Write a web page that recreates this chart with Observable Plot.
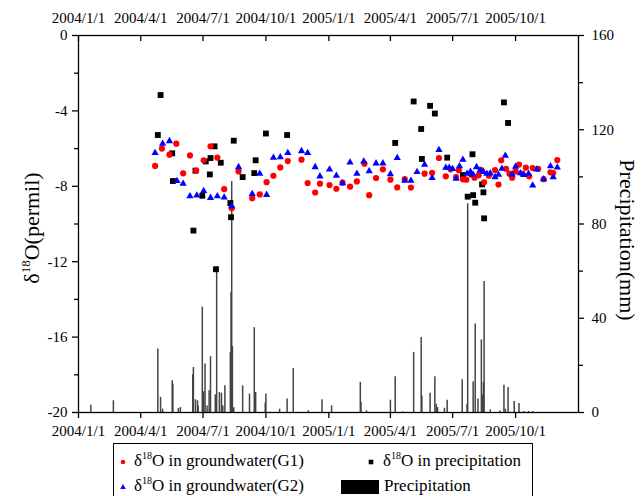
<!DOCTYPE html>
<html><head><meta charset="utf-8">
<script src="https://cdn.jsdelivr.net/npm/d3@7"></script>
<script src="https://cdn.jsdelivr.net/npm/@observablehq/plot@0.6"></script>
<style>
html,body{margin:0;padding:0;background:#fff;}
body{width:644px;height:496px;overflow:hidden;position:relative;font-family:"Liberation Serif","Times New Roman",serif;color:#000;}
#chart{position:absolute;left:0;top:0;}
#legend{position:absolute;left:113px;top:443px;width:420px;height:70px;border:1px solid #000;box-sizing:border-box;font-size:17px;}
#legend .it{position:absolute;white-space:nowrap;line-height:1;}
#legend sup{font-size:10px;vertical-align:0;position:relative;top:-7px;}
#legend svg{position:absolute;overflow:visible;}
</style></head><body>
<div id="chart"></div>
<div id="legend"></div>
<script>
// ---------- data ----------
const tickDates = ["2004-01-01","2004-04-01","2004-07-01","2004-10-01","2005-01-01","2005-04-01","2005-07-01","2005-10-01"];
const leftTicks = [0,-4,-8,-12,-16,-20];
const leftMinor = [-2,-6,-10,-14,-18];
const rightTicks = [0,40,80,120,160];
const rightMinor = [20,60,100,140];

// δ18O in groundwater (G1)
const g1Dates = ["2004-04-22","2004-05-02","2004-05-13","2004-05-23","2004-06-02","2004-06-12","2004-06-21","2004-07-02","2004-07-12","2004-07-22","2004-08-01","2004-08-12","2004-08-22","2004-09-11","2004-09-22","2004-10-02","2004-10-12","2004-10-22","2004-11-02","2004-11-22","2004-12-01","2004-12-12","2004-12-19","2005-01-02","2005-01-12","2005-01-21","2005-02-01","2005-02-11","2005-02-22","2005-03-01","2005-03-11","2005-03-21","2005-04-01","2005-04-11","2005-04-22","2005-05-01","2005-05-21","2005-06-01","2005-06-11","2005-06-21","2005-06-28","2005-07-06","2005-07-10","2005-07-16","2005-07-21","2005-07-28","2005-08-02","2005-08-08","2005-08-12","2005-08-16","2005-08-23","2005-09-01","2005-09-06","2005-09-10","2005-09-17","2005-09-22","2005-09-26","2005-10-01","2005-10-06","2005-10-11","2005-10-16","2005-10-21","2005-10-26","2005-11-03","2005-11-11","2005-11-21","2005-11-25","2005-12-01"];
const g1Values = [-6.92,-6.0,-6.32,-5.74,-7.31,-6.36,-7.17,-6.62,-5.88,-6.48,-8.15,-9.16,-7.21,-8.63,-8.43,-7.78,-7.44,-7.0,-6.66,-6.59,-7.83,-8.33,-7.86,-7.93,-8.13,-7.81,-8.02,-7.74,-6.8,-8.47,-7.56,-7.1,-7.65,-8.06,-7.62,-8.07,-7.33,-7.28,-6.5,-7.47,-7.1,-7.51,-7.15,-7.63,-7.65,-7.38,-7.54,-7.42,-7.14,-7.79,-7.44,-7.14,-7.91,-6.62,-7.07,-7.33,-7.54,-7.21,-6.85,-7.33,-7.01,-7.47,-7.03,-7.07,-7.62,-7.26,-7.3,-6.61];

// δ18O in groundwater (G2)
const g2Dates = ["2004-04-22","2004-05-03","2004-05-13","2004-05-24","2004-06-02","2004-06-12","2004-06-22","2004-07-02","2004-07-12","2004-07-22","2004-08-01","2004-08-12","2004-08-22","2004-09-11","2004-09-22","2004-10-02","2004-10-12","2004-10-22","2004-11-02","2004-11-22","2004-12-01","2004-12-12","2004-12-19","2005-01-02","2005-01-12","2005-01-21","2005-02-01","2005-02-11","2005-02-21","2005-03-01","2005-03-11","2005-03-21","2005-04-01","2005-04-11","2005-04-22","2005-05-01","2005-05-10","2005-05-21","2005-06-01","2005-06-11","2005-06-21","2005-06-26","2005-07-01","2005-07-06","2005-07-11","2005-07-16","2005-07-22","2005-07-27","2005-07-31","2005-08-05","2005-08-10","2005-08-15","2005-08-20","2005-08-25","2005-09-01","2005-09-06","2005-09-11","2005-09-16","2005-09-26","2005-10-01","2005-10-08","2005-10-13","2005-10-20","2005-10-26","2005-11-01","2005-11-11","2005-11-21","2005-11-25","2005-12-01"];
const g2Values = [-6.23,-5.74,-5.6,-7.72,-7.86,-8.52,-8.48,-8.25,-8.61,-8.52,-8.59,-9.05,-6.98,-8.4,-7.33,-8.45,-6.48,-6.45,-6.23,-6.13,-6.23,-6.98,-7.47,-7.1,-7.44,-7.83,-6.73,-7.33,-6.68,-7.19,-6.78,-6.78,-7.35,-6.5,-7.7,-7.7,-7.24,-6.85,-7.56,-6.07,-7.01,-7.01,-7.08,-7.6,-6.93,-6.59,-7.33,-7.22,-7.38,-6.98,-7.15,-7.24,-7.33,-7.31,-7.51,-7.38,-7.07,-6.37,-7.37,-6.96,-7.3,-7.4,-7.33,-7.95,-7.1,-7.62,-6.93,-7.51,-7.0];

// δ18O in precipitation
const pDates = ["2004-04-26","2004-04-30","2004-05-17","2004-05-18","2004-06-17","2004-06-20","2004-06-30","2004-07-05","2004-07-11","2004-07-12","2004-07-18","2004-07-20","2004-07-27","2004-08-10","2004-08-11","2004-08-15","2004-08-28","2004-09-14","2004-09-16","2004-10-01","2004-11-01","2005-04-08","2005-05-05","2005-05-16","2005-05-17","2005-05-29","2005-06-05","2005-06-23","2005-07-16","2005-07-23","2005-07-30","2005-07-31","2005-08-03","2005-08-13","2005-08-15","2005-08-16","2005-09-14","2005-09-20"];
const pValues = [-5.28,-3.16,-6.25,-7.72,-10.35,-7.17,-8.5,-6.68,-7.37,-6.5,-5.88,-12.4,-6.75,-8.89,-9.64,-5.58,-7.51,-7.3,-6.62,-5.2,-5.28,-5.7,-3.5,-4.96,-6.55,-3.73,-4.14,-6.48,-7.4,-8.55,-6.3,-8.47,-8.87,-7.9,-8.32,-9.7,-3.55,-4.64];

// Precipitation (mm)
const rainDates = ["2004-01-19","2004-02-21","2004-04-26","2004-04-30","2004-05-03","2004-05-17","2004-05-18","2004-05-26","2004-05-29","2004-06-16","2004-06-17","2004-06-20","2004-06-23","2004-06-24","2004-06-30","2004-07-02","2004-07-04","2004-07-07","2004-07-10","2004-07-12","2004-07-19","2004-07-21","2004-07-25","2004-07-28","2004-07-30","2004-08-02","2004-08-10","2004-08-11","2004-08-12","2004-08-13","2004-08-15","2004-08-28","2004-09-07","2004-09-14","2004-09-16","2004-09-30","2004-10-01","2004-10-21","2004-11-01","2004-11-10","2004-12-02","2004-12-22","2005-01-05","2005-02-16","2005-02-17","2005-02-25","2005-04-01","2005-04-08","2005-04-19","2005-05-05","2005-05-16","2005-05-17","2005-05-29","2005-06-05","2005-06-07","2005-06-09","2005-06-19","2005-06-23","2005-07-15","2005-07-22","2005-07-23","2005-07-31","2005-08-03","2005-08-07","2005-08-12","2005-08-14","2005-08-15","2005-08-16","2005-08-25","2005-09-08","2005-09-14","2005-09-16","2005-09-20","2005-09-29","2005-10-06","2005-10-13","2005-10-20","2005-10-26"];
const rainMM = [3.1,5,27,6.4,1.4,13.5,12,1.7,2.1,16,19.1,5.4,5,2.8,44.7,8.8,20.6,2.8,9.2,23.7,7.5,61.7,8.5,8.2,2.8,11.3,25.5,51,98,28,2,11.3,7.8,36,8.5,4,7.8,1.4,5.7,18.7,0.7,5.4,2.8,12.8,4.3,0.7,5.2,15.2,0.3,25.5,31.8,7,8.2,15.2,3.5,2.1,1.8,5.2,13.9,3.5,88.6,13,37.6,5.7,30.8,7.5,12.8,55.6,1.1,0.6,11.6,1.4,10.6,4.7,3.8,0.4,0.4,0.4];

// ---------- build ----------
const SERIF = "'Liberation Serif','Times New Roman',serif";
const parse = d3.utcParse("%Y-%m-%d");
const zip = (ds, vs) => ds.map((d, i) => ({date: parse(d), v: vs[i]}));
const g1 = zip(g1Dates, g1Values);
const g2 = zip(g2Dates, g2Values);
const pd = zip(pDates, pValues);
const rain = zip(rainDates, rainMM);
// right axis (0–160 mm) shares the frame with the left axis (-20–0 permil)
const mmToY = mm => -20 + mm / 8;
const yToMm = y => Math.round((y + 20) * 8);
const xTicks = tickDates.map(parse);
const fmtDate = d => `${d.getUTCFullYear()}/${d.getUTCMonth() + 1}/${d.getUTCDate()}`;

const plot = Plot.plot({
  width: 644, height: 440,
  marginLeft: 78, marginRight: 66, marginTop: 35, marginBottom: 28,
  style: {background: "#fff", overflow: "visible"},
  x: {type: "utc", domain: [parse("2004-01-01"), parse("2006-01-01")]},
  y: {domain: [-20, 0]},
  marks: [
    Plot.ruleX(rain, {x: "date", y1: -20, y2: d => mmToY(d.v), stroke: "#444", strokeWidth: 1.5}),
    Plot.dot(pd, {x: "date", y: "v", symbol: "square", r: 3.3, fill: "#000", stroke: "none"}),
    Plot.dot(g1, {x: "date", y: "v", symbol: "circle", r: 3.1, fill: "#ff0000", stroke: "none"}),
    Plot.dot(g2, {x: "date", y: "v", symbol: "triangle", r: 2.7, fill: "#0000ff", stroke: "none"}),
    Plot.frame({stroke: "#000", strokeWidth: 1.3}),
    Plot.axisX({anchor: "bottom", ticks: xTicks, tickFormat: fmtDate, tickSize: 6, tickPadding: 7, label: null, strokeWidth: 1.3, fontSize: 15, fontFamily: SERIF, fill: "#000"}),
    Plot.axisX({anchor: "top", ticks: xTicks, tickFormat: fmtDate, tickSize: 0, tickPadding: 13, label: null, fontSize: 15, fontFamily: SERIF, fill: "#000"}),
    Plot.ruleX(xTicks, {x: d => d, y1: 0, y2: 0, insetBottom: -6, stroke: "#000", strokeWidth: 1.3}),
    Plot.axisY({anchor: "left", ticks: leftTicks, tickFormat: d => String(d), tickSize: 6, tickPadding: 5, label: null, strokeWidth: 1.3, fontSize: 15, fontFamily: SERIF, fill: "#000"}),
    Plot.axisY({anchor: "left", ticks: leftMinor, tickFormat: () => "", tickSize: 4, label: null, strokeWidth: 1.3}),
    Plot.axisY({anchor: "right", ticks: rightTicks.map(mmToY), tickFormat: d => String(yToMm(d)), tickSize: 5, tickPadding: 8, label: null, strokeWidth: 1.3, fontSize: 15, fontFamily: SERIF, fill: "#000"}),
    Plot.axisY({anchor: "right", ticks: rightMinor.map(mmToY), tickFormat: () => "", tickSize: 4, label: null, strokeWidth: 1.3})
  ]
});
document.getElementById("chart").appendChild(plot);

// enforce serif tick labels
const svg = d3.select(plot);
svg.selectAll("[aria-label$='tick label']").each(function() {
  this.setAttribute("font-family", SERIF);
  this.setAttribute("font-size", 15);
  this.style.fontFamily = SERIF;
  this.style.fontSize = "15px";
});
svg.selectAll("text").each(function() {
  this.style.fontFamily = SERIF;
  this.style.fontSize = "15px";
  this.setAttribute("fill", "#000");
});

// axis titles (with superscript)
const lt = svg.append("text")
  .attr("transform", "translate(39,228) rotate(-90)")
  .attr("text-anchor", "middle")
  .style("font-size", "22px")
  .style("font-family", SERIF)
  .attr("fill", "#000");
lt.append("tspan").text("δ");
lt.append("tspan").style("font-size", "13px").attr("dy", -9).text("18");
lt.append("tspan").attr("dy", 9).text("O(permil)");
svg.append("text")
  .attr("transform", "translate(620,240) rotate(90)")
  .attr("text-anchor", "middle")
  .style("font-size", "22px")
  .style("font-family", SERIF)
  .attr("fill", "#000")
  .text("Precipitation(mm)");

// legend
const legendItems = [
  {x: 9, y: 18, kind: "circle", color: "#ff0000", label: "in groundwater(G1)", delta: true, tx: 20},
  {x: 257, y: 18, kind: "square", color: "#000", label: "in precipitation", delta: true, tx: 269},
  {x: 9, y: 43, kind: "triangle", color: "#0000ff", label: "in groundwater(G2)", delta: true, tx: 20},
  {x: 246, y: 43, kind: "bar", color: "#000", label: "Precipitation", delta: false, tx: 270}
];
const lg = document.getElementById("legend");
legendItems.forEach(it => {
  const ns = "http://www.w3.org/2000/svg";
  const s = document.createElementNS(ns, "svg");
  s.setAttribute("width", 1); s.setAttribute("height", 1);
  s.style.left = it.x + "px"; s.style.top = it.y + "px";
  let el;
  if (it.kind === "circle") { el = document.createElementNS(ns, "circle"); el.setAttribute("r", 2.3); }
  else if (it.kind === "square") { el = document.createElementNS(ns, "rect"); el.setAttribute("x", -2.3); el.setAttribute("y", -2.3); el.setAttribute("width", 4.6); el.setAttribute("height", 4.6); }
  else if (it.kind === "triangle") { el = document.createElementNS(ns, "path"); el.setAttribute("d", "M0,-3L2.8,2L-2.8,2Z"); }
  else { el = document.createElementNS(ns, "rect"); el.setAttribute("x", -19); el.setAttribute("y", -7); el.setAttribute("width", 38); el.setAttribute("height", 14); }
  el.setAttribute("fill", it.color);
  s.appendChild(el);
  lg.appendChild(s);
  const t = document.createElement("div");
  t.className = "it";
  t.style.left = it.tx + "px";
  t.style.top = (it.y - 10) + "px";
  t.innerHTML = it.delta ? `δ<sup>18</sup>O ${it.label}` : it.label;
  lg.appendChild(t);
});
</script>
</body></html>
